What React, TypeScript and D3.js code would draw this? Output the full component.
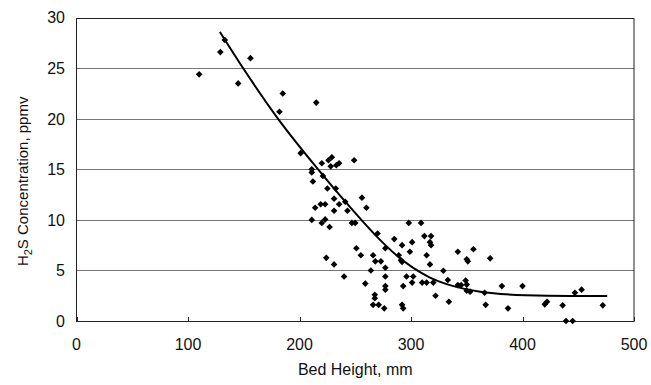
import { useRef, useEffect } from "react";
import * as d3 from "d3";

// measured points: bed height (mm) vs H2S concentration (ppmv)
const BED_HEIGHT = [
  110, 129, 133, 156, 145, 185, 182, 215, 201, 220, 229, 226, 228, 233, 235.5,
  249, 211, 211, 221, 212, 225, 232.5, 231, 241, 235.5, 256, 260, 214, 219,
  223, 231, 243, 211, 220, 223, 227, 247, 250, 251, 255, 224, 231, 266, 268,
  264, 240, 259, 267.5, 267.5, 266, 271, 270, 277, 273, 277, 277, 277, 277,
  276, 298, 309, 285, 292, 301, 312, 318, 317, 318, 299, 314, 289, 291, 292,
  317, 342, 356, 350, 351, 329, 296, 302, 301, 310, 314, 320, 333, 342, 345,
  349, 350, 350, 353, 293, 322, 334, 292, 293, 367, 387, 381.5, 400, 420, 422,
  436, 439, 445, 447, 453, 472, 371, 366,
];
const H2S_PPMV = [
  24.4, 26.6, 27.8, 26.0, 23.5, 22.5, 20.7, 21.6, 16.6, 15.6, 16.2, 15.9, 15.3,
  15.4, 15.6, 15.9, 15.0, 14.7, 14.35, 13.8, 13.1, 13.1, 12.1, 11.8, 11.55,
  12.2, 11.2, 11.2, 11.55, 11.55, 10.9, 10.9, 10.0, 9.7, 10.05, 9.3, 9.7, 9.7,
  7.2, 6.5, 6.25, 5.6, 6.5, 5.9, 5.0, 4.4, 3.7, 2.6, 2.25, 1.6, 1.6, 8.65, 7.2,
  5.9, 5.27, 4.4, 3.45, 3.1, 1.25, 9.7, 9.7, 8.1, 7.5, 7.8, 8.4, 8.4, 7.8, 7.5,
  6.85, 6.5, 6.5, 6.0, 5.85, 5.6, 6.85, 7.1, 6.1, 5.9, 4.97, 4.4, 4.4, 3.8,
  3.8, 3.8, 3.8, 4.05, 3.55, 3.55, 4.0, 3.6, 3.0, 2.9, 3.45, 2.5, 1.9, 1.6,
  1.25, 1.6, 1.25, 3.45, 3.45, 1.65, 1.9, 1.55, 0, 0, 2.8, 3.1, 1.55, 6.2, 2.8,
];

// trend line
const FIT_X = [128.6, 149.5, 180.8, 216.7, 240.7, 255.5, 272, 287, 302, 317, 332, 347, 362, 374, 403, 442, 476];
const FIT_Y = [28.6, 25, 20, 15, 11.85, 10, 8.05, 6.5, 5.25, 4.3, 3.65, 3.2, 2.9, 2.74, 2.55, 2.47, 2.47];

const X_TICKS = [0, 100, 200, 300, 400, 500];
const Y_TICKS = [0, 5, 10, 15, 20, 25, 30];

const FONT = "Liberation Sans, Arial, sans-serif";

export default function App() {
  const svgRef = useRef<SVGSVGElement>(null);

  useEffect(() => {
    if (!svgRef.current) return;
    const svg = d3.select(svgRef.current);
    svg.selectAll("*").remove();

    const left = 76.5;
    const right = 634;
    const top = 17.7;
    const bottom = 321;

    const x = d3.scaleLinear().domain([0, 500]).range([left, right]);
    const y = d3.scaleLinear().domain([0, 30]).range([bottom, top]);

    svg.append("rect").attr("width", 651).attr("height", 385).attr("fill", "#fff");

    // gridlines
    svg
      .append("g")
      .selectAll("line")
      .data(Y_TICKS.filter((t) => t > 0 && t < 30))
      .join("line")
      .attr("x1", left)
      .attr("x2", right)
      .attr("y1", (d) => Math.round(y(d)) + 0.5)
      .attr("y2", (d) => Math.round(y(d)) + 0.5)
      .attr("stroke", "#777")
      .attr("stroke-width", 1);

    // frame
    svg
      .append("rect")
      .attr("x", left)
      .attr("y", Math.round(top) + 0.5)
      .attr("width", right - left)
      .attr("height", Math.round(bottom) - Math.round(top))
      .attr("fill", "none")
      .attr("stroke", "#222")
      .attr("stroke-width", 1);

    // x ticks, pointing inward
    svg
      .append("g")
      .selectAll("line")
      .data(X_TICKS)
      .join("line")
      .attr("x1", (d) => Math.round(x(d)) + 0.5)
      .attr("x2", (d) => Math.round(x(d)) + 0.5)
      .attr("y1", bottom)
      .attr("y2", bottom - 4)
      .attr("stroke", "#222");

    svg
      .append("g")
      .selectAll("text")
      .data(X_TICKS)
      .join("text")
      .attr("x", (d) => x(d))
      .attr("y", 350)
      .attr("text-anchor", "middle")
      .attr("fill", "#111")
      .style("font-family", FONT)
      .style("font-size", "16px")
      .text((d) => d);

    svg
      .append("g")
      .selectAll("text")
      .data(Y_TICKS)
      .join("text")
      .attr("x", 65)
      .attr("y", (d) => y(d))
      .attr("dy", "0.36em")
      .attr("text-anchor", "end")
      .attr("fill", "#111")
      .style("font-family", FONT)
      .style("font-size", "16px")
      .text((d) => d);

    svg
      .append("text")
      .attr("x", (left + right) / 2)
      .attr("y", 375)
      .attr("text-anchor", "middle")
      .attr("fill", "#111")
      .style("font-family", FONT)
      .style("font-size", "16px")
      .text("Bed Height, mm");

    const yLabel = svg
      .append("text")
      .attr("transform", `translate(28,${(top + bottom) / 2 + 12}) rotate(-90)`)
      .attr("text-anchor", "middle")
      .attr("fill", "#111")
      .style("font-family", FONT)
      .style("font-size", "15px");
    yLabel.append("tspan").text("H");
    yLabel.append("tspan").attr("dy", 4).style("font-size", "11px").text("2");
    yLabel.append("tspan").attr("dy", -4).text("S Concentration, ppmv");

    // fitted curve
    const fit = FIT_X.map((v, i) => [v, FIT_Y[i]] as [number, number]);
    svg
      .append("path")
      .datum(fit)
      .attr(
        "d",
        d3
          .line<[number, number]>()
          .x((d) => x(d[0]))
          .y((d) => y(d[1]))
          .curve(d3.curveMonotoneX),
      )
      .attr("fill", "none")
      .attr("stroke", "#000")
      .attr("stroke-width", 2);

    // points
    const pts = BED_HEIGHT.map((v, i) => ({ bed: v, h2s: H2S_PPMV[i] }));
    const diamond = d3.symbol().type(d3.symbolDiamond2).size(28);
    svg
      .append("g")
      .selectAll("path")
      .data(pts)
      .join("path")
      .attr("transform", (d) => `translate(${x(d.bed)},${y(d.h2s)})`)
      .attr("d", diamond)
      .attr("fill", "#000");
  }, []);

  return (
    <svg
      ref={svgRef}
      width={651}
      height={385}
      style={{ position: "absolute", left: 0, top: 0, display: "block" }}
    />
  );
}
